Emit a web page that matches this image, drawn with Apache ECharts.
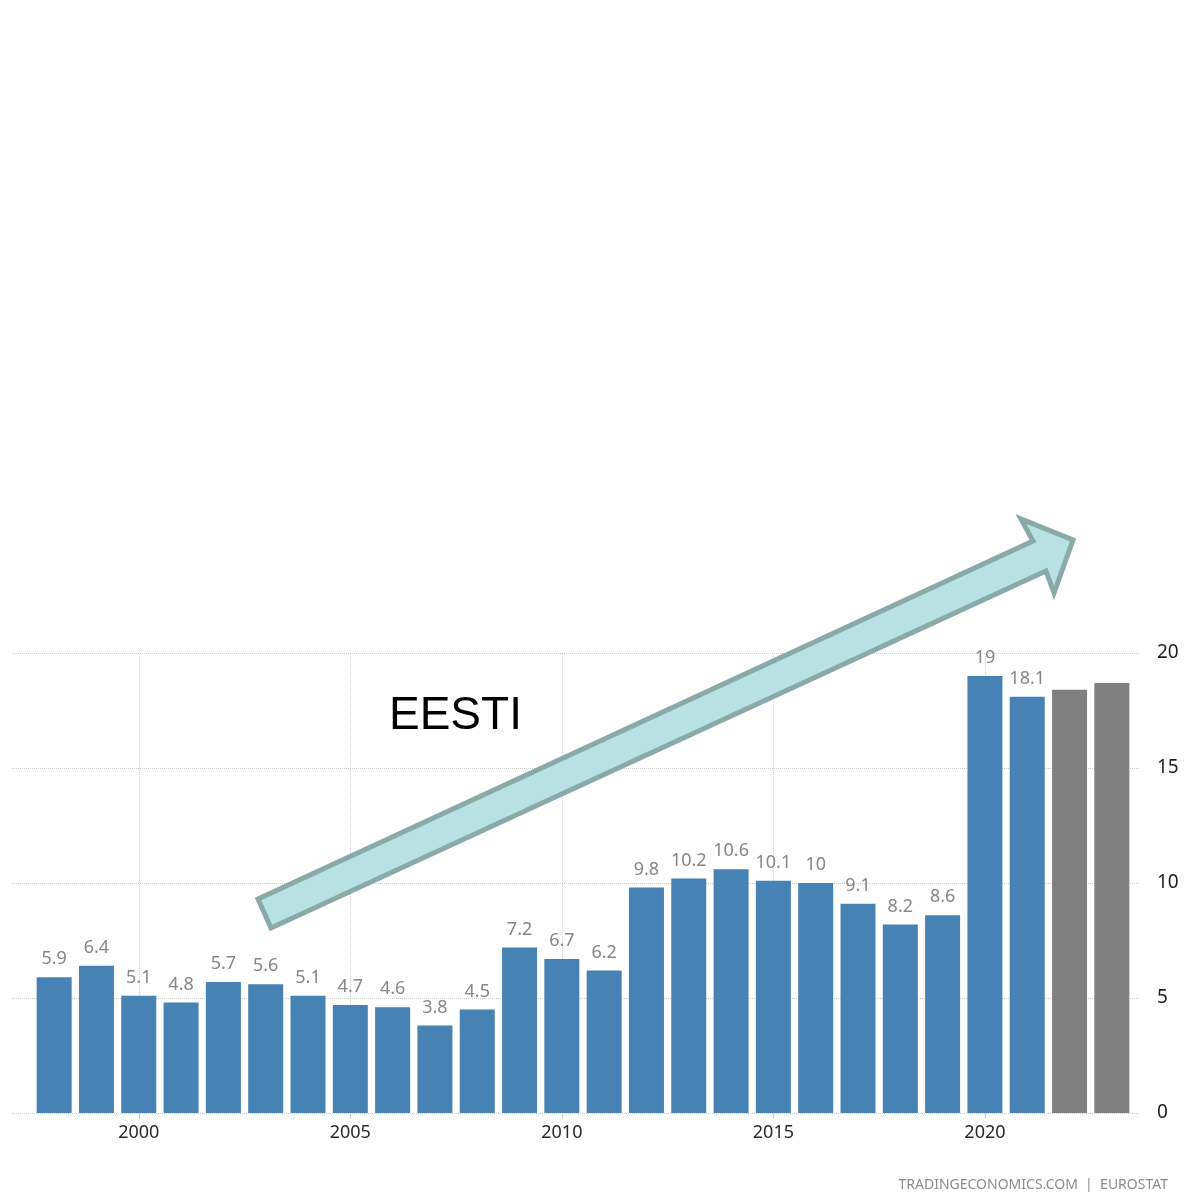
<!DOCTYPE html>
<html>
<head>
<meta charset="utf-8">
<script src="https://cdn.jsdelivr.net/npm/echarts@6/dist/echarts.min.js"></script>
<style>
  html, body { margin: 0; padding: 0; background: #fff; }
  #myChart { width: 1185px; height: 1192px; }
</style>
</head>
<body>
<div id="myChart"></div>
<script>
// 年份
var years = ['1998', '1999', '2000', '2001', '2002', '2003', '2004', '2005', '2006', '2007', '2008', '2009', '2010',
  '2011', '2012', '2013', '2014', '2015', '2016', '2017', '2018', '2019', '2020', '2021', '2022', '2023'];
// 实际值 1998-2021
var actualValues = [5.9, 6.4, 5.1, 4.8, 5.7, 5.6, 5.1, 4.7, 4.6, 3.8, 4.5, 7.2, 6.7, 6.2, 9.8, 10.2, 10.6, 10.1, 10, 9.1, 8.2, 8.6, 19, 18.1];
// 预测值 2022-2023 (灰色)
var forecastValues = [18.4, 18.7];
var yTicks = [0, 5, 10, 15, 20];
var markedYears = ['2000', '2005', '2010', '2015', '2020'];

var barData = actualValues.map(function (v) {
  return { value: v, itemStyle: { color: '#4682b4' } };
}).concat(forecastValues.map(function (v) {
  return { value: v, itemStyle: { color: '#808080' }, label: { show: false } };
}));

var myChart = echarts.init(document.getElementById('myChart'));
var option = {
  animation: false,
  backgroundColor: '#fff',
  textStyle: { fontFamily: 'Noto Sans' },
  grid: [
    { left: 33, right: 52, top: 653, bottom: 79 },
    { left: 12, right: 45, top: 653, bottom: 79 }
  ],
  xAxis: [
    {
      type: 'category',
      gridIndex: 0,
      data: years,
      axisLine: { show: false },
      axisTick: {
        show: true,
        alignWithLabel: true,
        length: 6,
        lineStyle: { color: '#cfcfcf' },
        interval: function (i, name) { return markedYears.indexOf(name) >= 0; }
      },
      axisLabel: {
        interval: function (i, name) { return markedYears.indexOf(name) >= 0; },
        color: '#2a2a2a',
        fontSize: 18,
        margin: 11
      },
      splitLine: { show: false }
    },
    { type: 'value', gridIndex: 1, show: false }
  ],
  yAxis: [
    { type: 'value', gridIndex: 0, min: 0, max: 20, show: false },
    {
      type: 'value',
      gridIndex: 1,
      position: 'right',
      min: 0,
      max: 20,
      interval: 5,
      axisLine: { show: false },
      axisTick: { show: false },
      axisLabel: { color: '#1f1f1f', fontSize: 19, margin: 17 },
      splitLine: { show: true, lineStyle: { type: 'dotted', color: '#cdcdcd', width: 1 } }
    }
  ],
  series: [
    {
      type: 'bar',
      xAxisIndex: 0,
      yAxisIndex: 0,
      barWidth: 35,
      z: 2,
      data: barData,
      label: {
        show: true,
        position: 'top',
        distance: 9,
        color: '#8a8682',
        fontSize: 18
      },
      markLine: {
        silent: true,
        z: 1,
        symbol: 'none',
        label: { show: false },
        lineStyle: { type: 'dotted', color: '#d0d0d0', width: 1 },
        data: markedYears.map(function (y) { return { xAxis: y }; })
      }
    }
  ],
  graphic: [
    {
      type: 'polygon',
      z: 100,
      shape: {
        points: [[258, 899], [271, 928], [1046, 571], [1054, 593], [1073, 540], [1021, 519], [1033, 541]]
      },
      style: { fill: '#b9e0e3', stroke: '#8aa9a9', lineWidth: 5, lineJoin: 'miter' }
    },
    {
      type: 'text',
      z: 100,
      left: 389,
      top: 693,
      style: { text: 'EESTI', fill: '#000', font: '46px "Liberation Sans", Arial, sans-serif' }
    },
    {
      type: 'text',
      z: 100,
      right: 17,
      top: 1178,
      style: { text: 'TRADINGECONOMICS.COM  |  EUROSTAT', fill: '#8c8c8c', font: '14px "Noto Sans", sans-serif' }
    }
  ]
};
myChart.setOption(option);
</script>
</body>
</html>
